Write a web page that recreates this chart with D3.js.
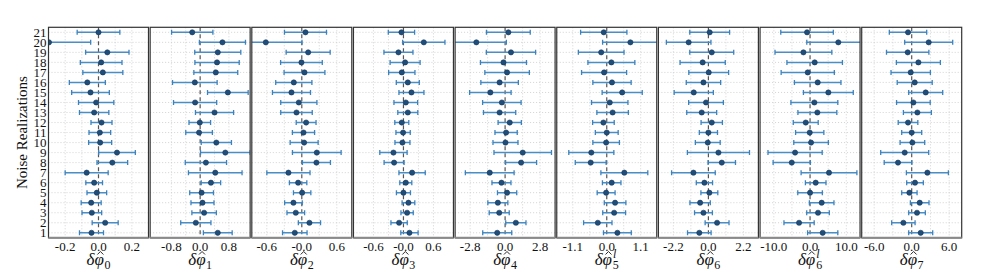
<!DOCTYPE html>
<html lang="en">
<head>
<meta charset="UTF-8">
<title>Noise realizations</title>
<script src="https://d3js.org/d3.v7.min.js"></script>
<style>
    body { margin: 0; background: #fff; }
    text { font-family: "Liberation Serif", "DejaVu Serif", serif; fill: #111; }
    .tick-label { font-size: 13px; }
    .axis-label { font-size: 15px; }
    .xlabel { font-size: 17px; }
</style>
</head>
<body>
<svg id="chart" width="981" height="280"></svg>
<script>
    // rows 1..21
    const realizations = d3.range(1, 22);

    const phi0    = [-0.042, 0.04, -0.04, -0.044, -0.01, -0.026, -0.071, 0.083, 0.111, 0.01, 0.008, 0.018, -0.026, -0.014, -0.048, -0.067, 0.026, 0.016, 0.053, -0.297, 0.0];
    const phi0Err = [0.072, 0.078, 0.059, 0.06, 0.059, 0.05, 0.129, 0.092, 0.11, 0.069, 0.065, 0.063, 0.088, 0.106, 0.113, 0.108, 0.12, 0.125, 0.13, 0.25, 0.128];

    const phi1    = [0.49, -0.12, 0.11, 0.065, 0.04, 0.3, 0.42, 0.16, 0.7, 0.45, -0.03, -0.01, 0.4, -0.14, 0.77, -0.148, 0.435, 0.47, 0.49, 0.62, -0.22];
    const phi1Err = [0.4, 0.42, 0.34, 0.32, 0.33, 0.27, 0.745, 0.574, 0.69, 0.42, 0.37, 0.3, 0.53, 0.6, 0.565, 0.62, 0.61, 0.616, 0.64, 0.64, 0.574];

    const phi2    = [-0.12, 0.131, -0.103, -0.143, 0.006, -0.063, -0.229, 0.251, 0.257, 0.04, 0.029, 0.074, -0.091, -0.051, -0.177, -0.137, 0.046, -0.006, 0.109, -0.617, 0.063];
    const phi2Err = [0.21, 0.19, 0.151, 0.151, 0.149, 0.149, 0.37, 0.24, 0.417, 0.24, 0.19, 0.17, 0.27, 0.31, 0.326, 0.31, 0.35, 0.357, 0.377, 0.62, 0.36];

    const phi3    = [0.12, -0.087, 0.073, 0.1, 0.0, 0.047, 0.173, -0.187, -0.2, -0.02, -0.007, -0.033, 0.087, 0.047, 0.16, 0.087, -0.033, 0.033, -0.1, 0.407, -0.04];
    const phi3Err = [0.173, 0.163, 0.123, 0.127, 0.14, 0.12, 0.263, 0.2, 0.273, 0.15, 0.143, 0.14, 0.2, 0.237, 0.25, 0.23, 0.263, 0.3, 0.29, 0.423, 0.263];

    const phi4    = [-0.63, 0.86, -0.47, -0.58, 0.16, -0.29, -1.23, 1.28, 1.41, 0.03, 0.08, 0.37, -0.44, -0.26, -1.18, -0.44, 0.16, -0.13, 0.47, -2.3, 0.26];
    const phi4Err = [1.16, 0.81, 0.8, 0.8, 0.77, 0.76, 1.95, 1.24, 2.3, 1.0, 0.89, 0.93, 1.29, 1.54, 1.66, 1.5, 1.78, 1.84, 1.97, 2.4, 1.75];

    const phi5l    = [0.345, -0.29, 0.24, 0.27, -0.02, 0.16, 0.57, -0.52, -0.5, -0.02, 0.0, -0.108, 0.19, 0.097, 0.5, 0.17, -0.086, 0.15, -0.18, 0.766, -0.097];
    const phi5lErr = [0.45, 0.46, 0.37, 0.35, 0.29, 0.3, 0.76, 0.5, 0.73, 0.43, 0.37, 0.35, 0.51, 0.59, 0.65, 0.62, 0.73, 0.76, 0.74, 0.9, 0.75];

    const phi6    = [-0.57, 0.545, -0.31, -0.52, 0.06, -0.25, -0.94, 0.84, 0.63, -0.04, 0.0, 0.21, -0.42, -0.15, -0.92, -0.31, 0.02, -0.36, 0.21, -1.24, 0.08];
    const phi6Err = [0.74, 0.75, 0.56, 0.64, 0.53, 0.51, 1.37, 0.86, 1.95, 0.78, 0.57, 0.67, 0.94, 1.09, 1.23, 1.08, 1.25, 1.42, 1.38, 1.4, 1.25];

    const phi6l    = [3.49, -3.03, 2.2, 3.21, 0.0, 1.56, 5.23, -5.05, -4.13, 0.28, -0.09, -1.19, 2.02, 1.19, 5.05, 2.11, -0.64, 1.28, -1.83, 7.8, -0.83];
    const phi6lErr = [4.17, 4.17, 3.12, 3.39, 3.39, 2.84, 7.7, 5.14, 7.48, 4.77, 3.9, 3.44, 5.37, 6.47, 6.88, 6.42, 7.34, 7.66, 7.84, 8.7, 7.25];

    const phi7    = [1.44, -1.33, 0.85, 1.28, -0.37, 0.53, 2.51, -2.19, -1.12, 0.11, 0.0, -0.59, 0.91, 0.27, 2.24, 0.48, -0.16, 1.07, -0.64, 2.72, -0.59];
    const phi7Err = [1.92, 1.87, 1.33, 1.49, 1.23, 1.33, 3.36, 2.21, 3.84, 1.97, 1.6, 1.57, 2.24, 2.69, 2.72, 2.8, 3.15, 3.52, 3.39, 3.84, 2.99];

    // x ranges and tick labels of each panel
    const xLimits = [0.3, 1.39, 0.857, 1.0, 4.0, 1.62, 3.14, 13.8, 8.0];
    const tickValues = [0.2, 0.8, 0.6, 0.6, 2.8, 1.1, 2.2, 10.0, 6.0];
    const tickLabels = [
        ['-0.2', '0.0', '0.2'], ['-0.8', '0.0', '0.8'], ['-0.6', '-0.0', '0.6'],
        ['-0.6', '-0.0', '0.6'], ['-2.8', '0.0', '2.8'], ['-1.1', '0.0', '1.1'],
        ['-2.2', '0.0', '2.2'], ['-10.0', '0.0', '10.0'], ['-6.0', '0.0', '6.0']
    ];
    // subscript and optional superscript of each x label
    const labelSub = ['0', '1', '2', '3', '4', '5', '6', '6', '7'];
    const labelSup = [null, null, null, null, null, 'l', null, 'l', null];

    const values = [phi0, phi1, phi2, phi3, phi4, phi5l, phi6, phi6l, phi7];
    const errors = [phi0Err, phi1Err, phi2Err, phi3Err, phi4Err, phi5lErr, phi6Err, phi6lErr, phi7Err];

    const svg = d3.select('#chart');
    const plotTop = 27.3, plotBottom = 237.8;
    const panelLeft = 48.5, panelPitch = 101.65, panelWidth = 100;

    const yScale = d3.scaleLinear()
        .domain([0.5, 21.5])
        .range([plotBottom, plotTop]);

    values.forEach((vals, p) => {
        const x0 = panelLeft + p * panelPitch;
        const lim = xLimits[p];
        const xScale = d3.scaleLinear()
            .domain([-lim, lim])
            .range([x0, x0 + panelWidth]);

        const g = svg.append('g');

        svg.append('clipPath')
            .attr('id', 'clip' + p)
            .append('rect')
            .attr('x', x0)
            .attr('y', plotTop)
            .attr('width', panelWidth)
            .attr('height', plotBottom - plotTop);

        // grid
        const t = tickValues[p];
        const gridX = [-t, -t / 2, t / 2, t];
        g.selectAll('.vgrid')
            .data(gridX)
            .enter()
            .append('line')
            .attr('x1', d => xScale(d))
            .attr('x2', d => xScale(d))
            .attr('y1', plotTop)
            .attr('y2', plotBottom)
            .attr('stroke', '#c8c8c8')
            .attr('stroke-width', 0.8)
            .attr('stroke-dasharray', '1,2');

        g.selectAll('.hgrid')
            .data(realizations)
            .enter()
            .append('line')
            .attr('x1', x0)
            .attr('x2', x0 + panelWidth)
            .attr('y1', d => yScale(d))
            .attr('y2', d => yScale(d))
            .attr('stroke', '#c8c8c8')
            .attr('stroke-width', 0.8)
            .attr('stroke-dasharray', '1,2');

        // zero line
        g.append('line')
            .attr('x1', xScale(0))
            .attr('x2', xScale(0))
            .attr('y1', plotTop)
            .attr('y2', plotBottom)
            .attr('stroke', '#555')
            .attr('stroke-width', 1.2)
            .attr('stroke-dasharray', '4,3');

        const rows = realizations.map((r, i) => ({ r, v: vals[i], e: errors[p][i] }));
        const marks = g.append('g').attr('clip-path', `url(#clip${p})`);

        marks.selectAll('.bar')
            .data(rows)
            .enter()
            .append('line')
            .attr('x1', d => xScale(d.v - d.e))
            .attr('x2', d => xScale(d.v + d.e))
            .attr('y1', d => yScale(d.r))
            .attr('y2', d => yScale(d.r))
            .attr('stroke', '#4a8ec6')
            .attr('stroke-width', 1.5);

        ['lo', 'hi'].forEach(side => {
            marks.selectAll('.cap-' + side)
                .data(rows)
                .enter()
                .append('line')
                .attr('x1', d => xScale(side === 'lo' ? d.v - d.e : d.v + d.e))
                .attr('x2', d => xScale(side === 'lo' ? d.v - d.e : d.v + d.e))
                .attr('y1', d => yScale(d.r) - 2.5)
                .attr('y2', d => yScale(d.r) + 2.5)
                .attr('stroke', '#3c82bd')
                .attr('stroke-width', 1.3);
        });

        marks.selectAll('circle')
            .data(rows)
            .enter()
            .append('circle')
            .attr('cx', d => xScale(d.v))
            .attr('cy', d => yScale(d.r))
            .attr('r', 2.6)
            .attr('fill', '#1f4e7a')
            .attr('stroke', '#17385a')
            .attr('stroke-width', 0.6);

        // frame
        g.append('rect')
            .attr('x', x0)
            .attr('y', plotTop)
            .attr('width', panelWidth)
            .attr('height', plotBottom - plotTop)
            .attr('fill', 'none')
            .attr('stroke', '#333')
            .attr('stroke-width', 1.2);
        g.append('line')
            .attr('x1', x0)
            .attr('x2', x0 + panelWidth)
            .attr('y1', plotBottom)
            .attr('y2', plotBottom)
            .attr('stroke', '#8a8a8a')
            .attr('stroke-width', 2);

        // x ticks
        g.selectAll('.xtick')
            .data([-t, 0, t])
            .enter()
            .append('text')
            .attr('class', 'tick-label')
            .attr('x', d => xScale(d))
            .attr('y', 251)
            .attr('text-anchor', 'middle')
            .text((d, i) => tickLabels[p][i]);

        // x label: δφ with hat, subscript and optional superscript
        const base = 265;
        const lbl = g.append('text')
            .attr('class', 'xlabel')
            .attr('x', 0)
            .attr('y', base);
        lbl.append('tspan').attr('font-style', 'italic').text('δφ');
        if (labelSup[p]) {
            lbl.append('tspan').attr('font-style', 'italic').attr('font-size', 12)
                .attr('dx', 1).attr('dy', -7).text(labelSup[p]);
            lbl.append('tspan').attr('font-size', 12)
                .attr('dx', -3.5).attr('dy', 11).text(labelSub[p]);
        } else {
            lbl.append('tspan').attr('font-size', 12)
                .attr('dx', 0.5).attr('dy', 4).text(labelSub[p]);
        }
        const w = lbl.node().getBBox().width;
        lbl.attr('x', xScale(0) - w / 2);
        const s = lbl.node().getStartPositionOfChar(1);
        const e = lbl.node().getEndPositionOfChar(1);
        const hx = (s.x + e.x) / 2 + 1.2;
        g.append('path')
            .attr('d', `M${hx - 3},${base - 10.5} L${hx},${base - 13.5} L${hx + 3},${base - 10.5}`)
            .attr('fill', 'none')
            .attr('stroke', '#111')
            .attr('stroke-width', 0.9);
    });

    // y ticks on the first panel
    svg.selectAll('.ytick')
        .data(realizations)
        .enter()
        .append('text')
        .attr('class', 'tick-label')
        .attr('x', 46.5)
        .attr('y', d => yScale(d) + 4.3)
        .attr('text-anchor', 'end')
        .text(d => d);

    svg.append('text')
        .attr('class', 'axis-label')
        .attr('transform', `translate(26.5,${(plotTop + plotBottom) / 2}) rotate(-90)`)
        .attr('text-anchor', 'middle')
        .text('Noise Realizations');
</script>
</body>
</html>
